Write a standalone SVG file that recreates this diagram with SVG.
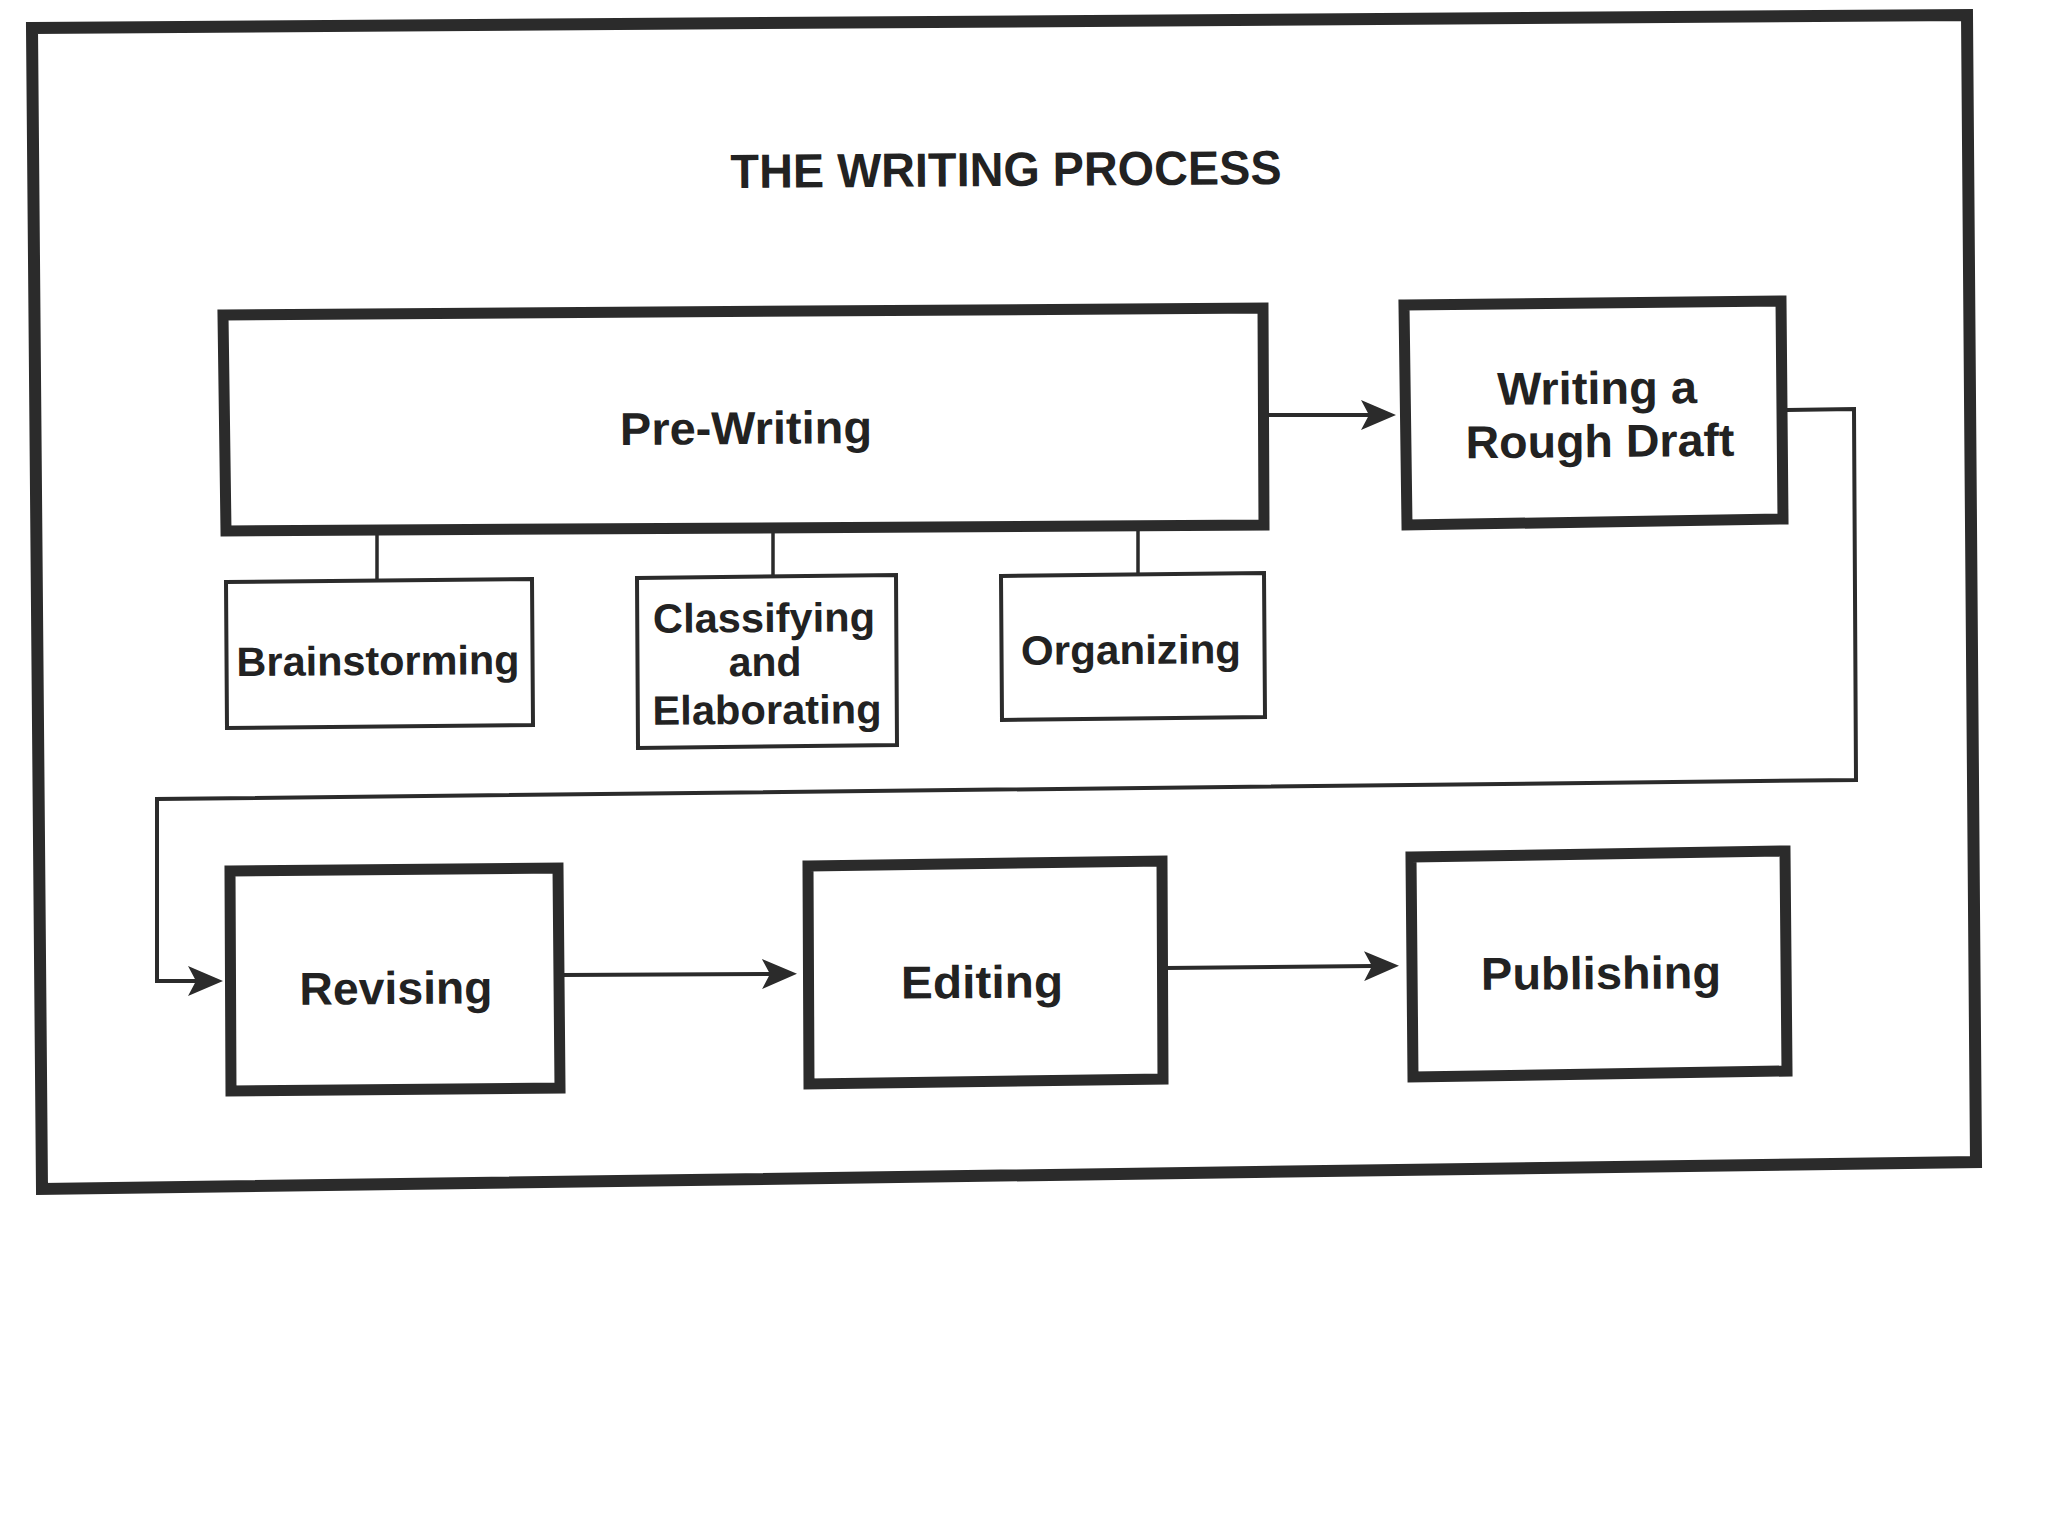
<svg xmlns="http://www.w3.org/2000/svg" width="2048" height="1536" viewBox="0 0 2048 1536">
<style>
  .frame { fill: none; stroke: #2b2b2b; stroke-width: 12; stroke-linejoin: miter; }
  .main { fill: #ffffff; stroke: #2b2b2b; stroke-width: 11; stroke-linejoin: miter; }
  .sub { fill: #ffffff; stroke: #2b2b2b; stroke-width: 4; stroke-linejoin: miter; }
  .conn { fill: none; stroke: #2b2b2b; stroke-width: 4; stroke-linejoin: miter; }
  .stub { fill: none; stroke: #2b2b2b; stroke-width: 3.5; }
  text { font-family: "Liberation Sans", Arial, Helvetica, sans-serif; font-weight: bold; fill: #222222; text-anchor: middle; }
  .title { font-size: 48px; }
  .big { font-size: 46px; }
  .small { font-size: 41px; }
</style>
<defs>
  <marker id="arrow" viewBox="0 0 35 30" refX="8" refY="15" markerWidth="35" markerHeight="30" markerUnits="userSpaceOnUse" orient="auto">
    <path d="M0,0 L35,15 L0,30 L8,15 Z" fill="#2b2b2b"/>
  </marker>
</defs>
<rect x="0" y="0" width="2048" height="1536" fill="#ffffff"/>
<polygon class="frame" points="32,28 1967,15 1976,1162 42,1189"/>
<text class="title" x="1006" y="186" textLength="551" lengthAdjust="spacingAndGlyphs" transform="rotate(-0.4 1006 170)">THE WRITING PROCESS</text>

<g id="connectors">
  <line class="stub" x1="377" y1="531" x2="377" y2="581"/>
  <line class="stub" x1="773" y1="529" x2="773" y2="577"/>
  <line class="stub" x1="1138" y1="527" x2="1138" y2="574"/>
  <path class="conn" d="M1268,415 L1369,415" marker-end="url(#arrow)"/>
  <path class="conn" d="M1787,410 L1854,409 L1856,780 L157,799 L157,981 L196,981" marker-end="url(#arrow)"/>
  <path class="conn" d="M563,975 L770,974" marker-end="url(#arrow)"/>
  <path class="conn" d="M1166,968 L1372,966" marker-end="url(#arrow)"/>
</g>

<g id="pre-writing">
  <polygon class="main" points="223,315 1263,308 1264,525 226,531"/>
  <text class="big" x="746" y="444" textLength="252" lengthAdjust="spacingAndGlyphs" transform="rotate(-0.4 746 430)">Pre-Writing</text>
</g>
<g id="rough-draft">
  <polygon class="main" points="1404,305 1781,301 1783,519 1407,525"/>
  <text class="big" x="1597" y="404" textLength="200" lengthAdjust="spacingAndGlyphs" transform="rotate(-0.5 1597 390)">Writing a</text>
  <text class="big" x="1600" y="457" textLength="269" lengthAdjust="spacingAndGlyphs" transform="rotate(-0.5 1600 443)">Rough Draft</text>
</g>
<g id="brainstorming">
  <polygon class="sub" points="226,582 532,579 533,725 227,728"/>
  <text class="small" x="378" y="675" textLength="283" lengthAdjust="spacingAndGlyphs" transform="rotate(-0.4 378 660)">Brainstorming</text>
</g>
<g id="classifying">
  <polygon class="sub" points="637,578 896,575 897,745 638,748"/>
  <text class="small" x="764" y="632" textLength="222" lengthAdjust="spacingAndGlyphs" transform="rotate(-0.4 764 618)">Classifying</text>
  <text class="small" x="765" y="676" transform="rotate(-0.4 765 662)">and</text>
  <text class="small" x="767" y="724" textLength="229" lengthAdjust="spacingAndGlyphs" transform="rotate(-0.4 767 710)">Elaborating</text>
</g>
<g id="organizing">
  <polygon class="sub" points="1001,576 1264,573 1265,717 1002,720"/>
  <text class="small" x="1131" y="664" textLength="220" lengthAdjust="spacingAndGlyphs" transform="rotate(-0.4 1131 650)">Organizing</text>
</g>
<g id="revising">
  <polygon class="main" points="230,871 558,868 560,1088 231,1091"/>
  <text class="big" x="396" y="1004" textLength="193" lengthAdjust="spacingAndGlyphs" transform="rotate(-0.4 396 990)">Revising</text>
</g>
<g id="editing">
  <polygon class="main" points="808,866 1162,861 1163,1079 809,1084"/>
  <text class="big" x="982" y="998" textLength="162" lengthAdjust="spacingAndGlyphs" transform="rotate(-0.4 982 984)">Editing</text>
</g>
<g id="publishing">
  <polygon class="main" points="1411,857 1785,851 1787,1071 1413,1077"/>
  <text class="big" x="1601" y="989" textLength="240" lengthAdjust="spacingAndGlyphs" transform="rotate(-0.4 1601 975)">Publishing</text>
</g>
</svg>
